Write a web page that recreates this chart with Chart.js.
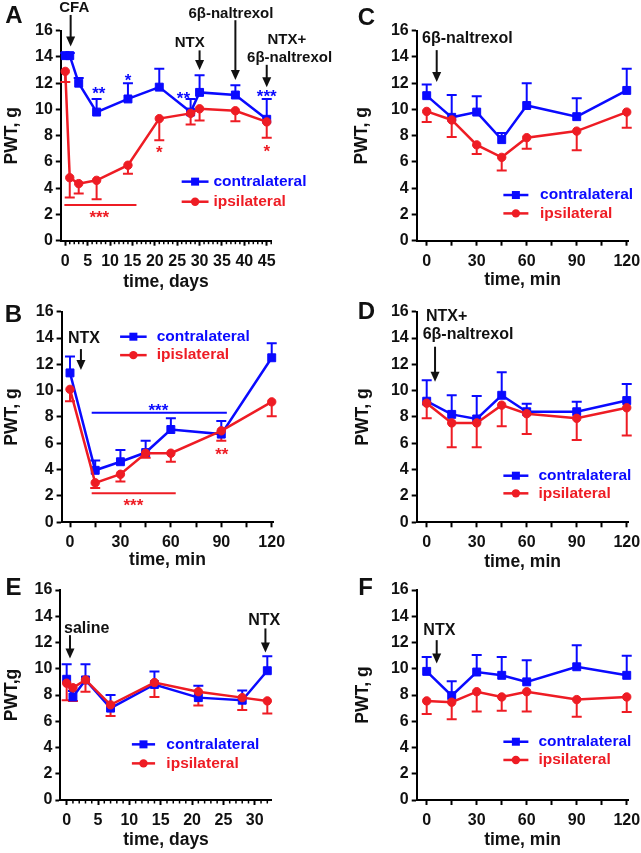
<!DOCTYPE html>
<html>
<head>
<meta charset="utf-8">
<script src="https://cdn.jsdelivr.net/npm/chart.js@4.4.1/dist/chart.umd.min.js"></script>
<style>
  html, body { margin: 0; padding: 0; background: #fff; width: 641px; height: 853px; overflow: hidden; position: relative; }
  canvas { position: absolute; }
</style>
</head>
<body>
<script>
const BLUE = '#0a0aff';
const RED = '#ee1c24';
const FONT = '"Liberation Sans", Arial, Helvetica, sans-serif';

// ---- data ----
const yTicks = [0, 2, 4, 6, 8, 10, 12, 14, 16];
const minLabels = [0, 30, 60, 90, 120];
const minTickMarks = [0, 15, 30, 45, 60, 75, 90, 105, 120];
const daysLabelsA = [0, 5, 10, 15, 20, 25, 30, 35, 40, 45];
const daysLabelsE = [0, 5, 10, 15, 20, 25, 30];

const names = ['contralateral', 'ipsilateral'];
const namesB = ['contralateral', 'ipislateral'];

// A: CFA time course (days)
const daysA = [0, 1, 3, 7, 14, 21, 28, 30, 38, 45];
const contraA = [14.1, 14.1, 12.0, 9.8, 10.8, 11.7, 9.8, 11.3, 11.1, 9.25];
const contraErrA = [0.2, 0.2, 0.4, 1.0, 1.2, 1.4, 1.0, 1.3, 0.75, 1.55];
const ipsiA = [12.9, 4.8, 4.35, 4.6, 5.75, 9.3, 9.7, 10.05, 9.9, 9.05];
const ipsiErrA = [0.8, 1.5, 0.75, 1.45, 0.65, 1.65, 0.85, 0.9, 0.8, 1.2];

// B-D, F: minutes after injection
const minutes = [0, 15, 30, 45, 60, 90, 120];
const contraB = [11.35, 3.95, 4.6, 5.3, 7.05, 6.7, 12.5];
const contraErrB = [1.25, 0.75, 0.9, 0.9, 0.85, 1.0, 1.1];
const ipsiB = [10.1, 3.0, 3.65, 5.25, 5.25, 6.95, 9.15];
const ipsiErrB = [0.9, 0.4, 0.55, 0.35, 0.65, 0.75, 1.1];

const contraC = [11.05, 9.4, 9.8, 7.7, 10.3, 9.45, 11.45];
const contraErrC = [0.85, 1.7, 1.2, 0.5, 1.7, 1.4, 1.65];
const ipsiC = [9.85, 9.2, 7.3, 6.35, 7.85, 8.35, 9.8];
const ipsiErrC = [0.8, 1.3, 0.7, 1.0, 0.85, 1.45, 1.2];

const contraD = [9.2, 8.2, 7.85, 9.65, 8.4, 8.4, 9.25];
const contraErrD = [1.6, 1.45, 1.75, 1.75, 0.6, 0.75, 1.25];
const ipsiD = [9.05, 7.55, 7.55, 8.9, 8.25, 7.9, 8.7];
const ipsiErrD = [1.15, 1.85, 1.85, 1.6, 1.55, 1.65, 2.1];

// E: saline time course (days)
const daysE = [0, 1, 3, 7, 14, 21, 28, 32];
const contraE = [9.2, 7.85, 9.15, 7.0, 8.8, 7.8, 7.6, 9.85];
const contraErrE = [1.15, 0.45, 1.2, 1.0, 1.0, 0.9, 0.75, 1.1];
const ipsiE = [8.9, 8.55, 9.15, 7.25, 8.95, 8.25, 7.8, 7.55];
const ipsiErrE = [1.3, 1.0, 0.9, 0.85, 1.1, 1.05, 0.95, 0.95];

const contraF = [9.8, 7.95, 9.75, 9.5, 9.0, 10.15, 9.5];
const contraErrF = [1.1, 1.1, 1.3, 1.4, 1.65, 1.65, 1.5];
const ipsiF = [7.55, 7.45, 8.25, 7.85, 8.25, 7.65, 7.85];
const ipsiErrF = [1.0, 1.3, 1.5, 1.05, 1.5, 1.3, 1.15];

// ---- panel layout (page pixels) and annotations (data coords) ----
const panels = [
  { letter: 'A', letterPos: [14, 16.5], box: { left: 0, top: 0, w: 350, h: 293 },
    area: { L: 60.8, T: 30.7, R: 271.2, B: 240.7 }, xMin: -1, xMax: 46, yTitleX: 12,
    x: daysA, contra: contraA, contraErr: contraErrA, ipsi: ipsiA, ipsiErr: ipsiErrA, names: names,
    xTickMarks: daysLabelsA, xLabels: daysLabelsA, minorStep: 1,
    xTitle: 'time, days', yTitle: 'PWT, g', textSize: 15,
    texts: [
      { t: 'CFA', x: 2, y: 17.75 }, { t: 'NTX', x: 27.8, y: 15.05 },
      { t: '6β-naltrexol', x: 37, y: 17.27 },
      { t: 'NTX+', x: 49.5, y: 15.3 }, { t: '6β-naltrexol', x: 50.1, y: 13.92 }
    ],
    stars: [
      { t: '**', x: 7.5, y: 11.5, c: BLUE }, { t: '*', x: 14, y: 12.55, c: BLUE },
      { t: '**', x: 26.4, y: 11.15, c: BLUE }, { t: '***', x: 45, y: 11.3, c: BLUE },
      { t: '*', x: 21, y: 7.05, c: RED }, { t: '*', x: 45, y: 7.15, c: RED },
      { t: '***', x: 7.6, y: 2.1, c: RED }
    ],
    bars: [{ x1: -0.2, x2: 15.9, y: 2.72, c: RED }],
    arrows: [{ x: 1.2, y1: 17.2, y2: 14.8 }, { x: 30, y1: 14.5, y2: 13.0 },
             { x: 38, y1: 16.8, y2: 12.25 }, { x: 45, y1: 13.4, y2: 11.7 }],
    legend: { x1: 26, x2: 32, xt: 33.1, y: [4.5, 2.97] } },

  { letter: 'B', letterPos: [13.5, 315], box: { left: 0, top: 285, w: 340, h: 286 },
    area: { L: 61.6, T: 311.7, R: 273.4, B: 522.3 }, xMin: -5, xMax: 121, yTitleX: 12,
    x: minutes, contra: contraB, contraErr: contraErrB, ipsi: ipsiB, ipsiErr: ipsiErrB, names: namesB,
    xTickMarks: minTickMarks, xLabels: minLabels, minorStep: 0,
    xTitle: 'time, min', yTitle: 'PWT, g', textSize: 16,
    texts: [{ t: 'NTX', x: 8.3, y: 13.97 }],
    stars: [{ t: '***', x: 52.6, y: 8.78, c: BLUE }, { t: '***', x: 37.7, y: 1.57, c: RED },
            { t: '**', x: 90.3, y: 5.49, c: RED }],
    bars: [{ x1: 12.9, x2: 93.3, y: 8.33, c: BLUE }, { x1: 12.9, x2: 62.9, y: 2.2, c: RED }],
    arrows: [{ x: 6.5, y1: 13.16, y2: 11.57 }],
    legend: { x1: 29.8, x2: 45.6, xt: 51.6, y: [14.1, 12.7] } },

  { letter: 'C', letterPos: [366.5, 18.5], box: { left: 320, top: 0, w: 330, h: 291 },
    area: { L: 416.7, T: 30.7, R: 628.4, B: 240.7 }, xMin: -6, xMax: 121, yTitleX: 362,
    x: minutes, contra: contraC, contraErr: contraErrC, ipsi: ipsiC, ipsiErr: ipsiErrC, names: names,
    xTickMarks: minTickMarks, xLabels: minLabels, minorStep: 0,
    xTitle: 'time, min', yTitle: 'PWT, g', textSize: 16,
    texts: [{ t: '6β-naltrexol', x: 24.4, y: 15.4 }],
    stars: [], bars: [],
    arrows: [{ x: 6, y1: 14.52, y2: 12.1 }],
    legend: { x1: 46, x2: 61, xt: 68, y: [3.48, 2.08] } },

  { letter: 'D', letterPos: [366.5, 312.5], box: { left: 320, top: 285, w: 330, h: 288 },
    area: { L: 416.7, T: 311.7, R: 628.4, B: 522.3 }, xMin: -6, xMax: 121, yTitleX: 363,
    x: minutes, contra: contraD, contraErr: contraErrD, ipsi: ipsiD, ipsiErr: ipsiErrD, names: names,
    xTickMarks: minTickMarks, xLabels: minLabels, minorStep: 0,
    xTitle: 'time, min', yTitle: 'PWT, g', textSize: 16,
    texts: [{ t: 'NTX+', x: -0.4, y: 15.62, align: 'left' }, { t: '6β-naltrexol', x: -2.4, y: 14.23, align: 'left' }],
    stars: [], bars: [],
    arrows: [{ x: 5, y1: 13.34, y2: 10.68 }],
    legend: { x1: 46, x2: 61, xt: 67, y: [3.54, 2.2] } },

  { letter: 'E', letterPos: [13.5, 588.5], box: { left: 0, top: 565, w: 340, h: 286 },
    area: { L: 60.4, T: 590, R: 271.7, B: 800 }, xMin: -1, xMax: 32.7, yTitleX: 12,
    x: daysE, contra: contraE, contraErr: contraErrE, ipsi: ipsiE, ipsiErr: ipsiErrE, names: names,
    xTickMarks: daysLabelsE, xLabels: daysLabelsE, minorStep: 1,
    xTitle: 'time, days', yTitle: 'PWT,g', textSize: 16,
    texts: [{ t: 'saline', x: 3.2, y: 13.07 }, { t: 'NTX', x: 31.5, y: 13.7 }],
    stars: [], bars: [],
    arrows: [{ x: 0.53, y1: 12.56, y2: 10.79 }, { x: 31.7, y1: 13.07, y2: 11.24 }],
    legend: { x1: 10.4, x2: 14.1, xt: 15.9, y: [4.24, 2.79] } },

  { letter: 'F', letterPos: [365.5, 588.5], box: { left: 320, top: 565, w: 330, h: 286 },
    area: { L: 416.7, T: 590, R: 628.4, B: 800 }, xMin: -6, xMax: 121, yTitleX: 363,
    x: minutes, contra: contraF, contraErr: contraErrF, ipsi: ipsiF, ipsiErr: ipsiErrF, names: names,
    xTickMarks: minTickMarks, xLabels: minLabels, minorStep: 0,
    xTitle: 'time, min', yTitle: 'PWT, g', textSize: 16,
    texts: [{ t: 'NTX', x: 7.6, y: 12.87 }],
    stars: [], bars: [],
    arrows: [{ x: 6, y1: 12.18, y2: 10.4 }],
    legend: { x1: 46, x2: 61, xt: 67, y: [4.44, 3.05] } }
];

const TITLE_SIZE = 17.5;

Chart.defaults.font.family = FONT;
Chart.defaults.color = '#000';

// error bars, annotations, legend, minor ticks
function extras(p) {
  return {
    id: 'extras',
    beforeDatasetsDraw(chart) {
      const ctx = chart.ctx, ys = chart.scales.y;
      chart.data.datasets.forEach((ds, i) => {
        const meta = chart.getDatasetMeta(i);
        ctx.save();
        ctx.strokeStyle = ds.borderColor;
        ctx.lineWidth = 2;
        ds.err.forEach((e, j) => {
          const pt = meta.data[j];
          const yEnd = ys.getPixelForValue(ds.data[j].y + ds.dir * e);
          ctx.beginPath();
          ctx.moveTo(pt.x, pt.y); ctx.lineTo(pt.x, yEnd);
          ctx.moveTo(pt.x - 5, yEnd); ctx.lineTo(pt.x + 5, yEnd);
          ctx.stroke();
        });
        ctx.restore();
      });
    },
    afterDraw(chart) {
      const ctx = chart.ctx, xs = chart.scales.x, ys = chart.scales.y;
      const X = v => xs.getPixelForValue(v), Y = v => ys.getPixelForValue(v);
      ctx.save();

      // minor ticks on the day axes
      if (p.minorStep) {
        ctx.strokeStyle = '#000'; ctx.lineWidth = 1.5;
        const b = chart.chartArea.bottom;
        for (let v = 0; v <= p.xMax; v += p.minorStep) {
          if (p.xTickMarks.includes(v)) continue;
          ctx.beginPath(); ctx.moveTo(X(v), b); ctx.lineTo(X(v), b + 3.5); ctx.stroke();
        }
      }

      // significance bars
      p.bars.forEach(b => {
        ctx.strokeStyle = b.c; ctx.lineWidth = 2;
        ctx.beginPath(); ctx.moveTo(X(b.x1), Y(b.y)); ctx.lineTo(X(b.x2), Y(b.y)); ctx.stroke();
      });

      // asterisks (y is glyph centre)
      ctx.font = 'bold 17px ' + FONT;
      ctx.textAlign = 'center'; ctx.textBaseline = 'alphabetic';
      p.stars.forEach(s => {
        ctx.fillStyle = s.c;
        ctx.fillText(s.t, X(s.x), Y(s.y) + 17 * 0.57);
      });

      // treatment labels
      ctx.font = 'bold ' + p.textSize + 'px ' + FONT;
      ctx.fillStyle = '#111'; ctx.textBaseline = 'middle';
      p.texts.forEach(t => {
        ctx.textAlign = t.align || 'center';
        ctx.fillText(t.t, X(t.x), Y(t.y));
      });

      // arrows
      ctx.strokeStyle = '#111'; ctx.fillStyle = '#111'; ctx.lineWidth = 2;
      p.arrows.forEach(a => {
        const x = X(a.x), y1 = Y(a.y1), y2 = Y(a.y2);
        ctx.beginPath(); ctx.moveTo(x, y1); ctx.lineTo(x, y2 - 8); ctx.stroke();
        ctx.beginPath(); ctx.moveTo(x - 4.5, y2 - 10); ctx.lineTo(x + 4.5, y2 - 10); ctx.lineTo(x, y2); ctx.closePath(); ctx.fill();
      });

      // legend
      const lg = p.legend;
      chart.data.datasets.forEach((ds, i) => {
        const y = Y(lg.y[i]), x1 = X(lg.x1), x2 = X(lg.x2), xm = (x1 + x2) / 2;
        ctx.strokeStyle = ds.borderColor; ctx.fillStyle = ds.borderColor; ctx.lineWidth = 2.5;
        ctx.beginPath(); ctx.moveTo(x1, y); ctx.lineTo(x2, y); ctx.stroke();
        if (ds.pointStyle === 'rect') ctx.fillRect(xm - 4, y - 4, 8, 8);
        else { ctx.beginPath(); ctx.arc(xm, y, 4.2, 0, Math.PI * 2); ctx.fill(); }
        ctx.font = 'bold 15.5px ' + FONT;
        ctx.textAlign = 'left'; ctx.textBaseline = 'middle';
        ctx.fillText(ds.label, X(lg.xt), y);
      });

      // panel letter
      ctx.fillStyle = '#111';
      ctx.font = 'bold 24px ' + FONT;
      ctx.textAlign = 'center'; ctx.textBaseline = 'middle';
      ctx.fillText(p.letter, p.letterPos[0] - p.box.left, p.letterPos[1] - p.box.top);
      ctx.restore();
    }
  };
}

function buildPanel(p) {
  const cv = document.createElement('canvas');
  cv.width = p.box.w; cv.height = p.box.h;
  cv.style.left = p.box.left + 'px';
  cv.style.top = p.box.top + 'px';
  cv.style.width = p.box.w + 'px';
  cv.style.height = p.box.h + 'px';
  document.body.appendChild(cv);

  const padLeft = p.yTitleX - p.box.left - TITLE_SIZE * 0.6;
  const yWidth = p.area.L - p.box.left - padLeft;
  const xHeight = p.box.top + p.box.h - p.area.B;
  const titleFont = { size: TITLE_SIZE, weight: 'bold', lineHeight: 1.2 };
  const tickFont = { size: 16, weight: 'bold' };

  new Chart(cv, {
    type: 'line',
    data: {
      datasets: [
        { label: p.names[0], data: p.x.map((v, i) => ({ x: v, y: p.contra[i] })),
          err: p.contraErr, dir: 1, borderColor: BLUE, backgroundColor: BLUE,
          pointBackgroundColor: BLUE, pointBorderColor: BLUE,
          pointStyle: 'rect', pointRadius: 5.6, order: 1 },
        { label: p.names[1], data: p.x.map((v, i) => ({ x: v, y: p.ipsi[i] })),
          err: p.ipsiErr, dir: -1, borderColor: RED, backgroundColor: RED,
          pointBackgroundColor: RED, pointBorderColor: RED,
          pointStyle: 'circle', pointRadius: 4.2, order: 0 }
      ]
    },
    options: {
      responsive: false,
      animation: false,
      events: [],
      clip: false,
      layout: { padding: { left: padLeft, top: p.area.T - p.box.top, right: p.box.left + p.box.w - p.area.R, bottom: 0 } },
      plugins: { legend: { display: false }, tooltip: { enabled: false } },
      elements: { line: { borderWidth: 2.5, tension: 0 }, point: { borderWidth: 1 } },
      scales: {
        x: {
          type: 'linear', min: p.xMin, max: p.xMax,
          afterBuildTicks: s => { s.ticks = p.xTickMarks.map(v => ({ value: v })); },
          afterFit: s => { s.height = xHeight; },
          ticks: { autoSkip: false, maxRotation: 0, padding: 6, color: '#111', font: tickFont,
                   callback: v => p.xLabels.includes(v) ? String(v) : '' },
          grid: { drawOnChartArea: false, tickLength: 5, tickWidth: 2, tickColor: '#000' },
          border: { color: '#000', width: 2 },
          title: { display: true, text: p.xTitle, color: '#111', font: titleFont, padding: 0 }
        },
        y: {
          type: 'linear', min: 0, max: 16,
          afterBuildTicks: s => { s.ticks = yTicks.map(v => ({ value: v })); },
          afterFit: s => { s.width = yWidth; },
          ticks: { padding: 3, color: '#111', font: tickFont },
          grid: { drawOnChartArea: false, tickLength: 5, tickWidth: 2, tickColor: '#000' },
          border: { color: '#000', width: 2 },
          title: { display: true, text: p.yTitle, color: '#111', font: titleFont, padding: 0 }
        }
      }
    },
    plugins: [extras(p)]
  });
}

panels.forEach(buildPanel);
</script>
</body>
</html>
